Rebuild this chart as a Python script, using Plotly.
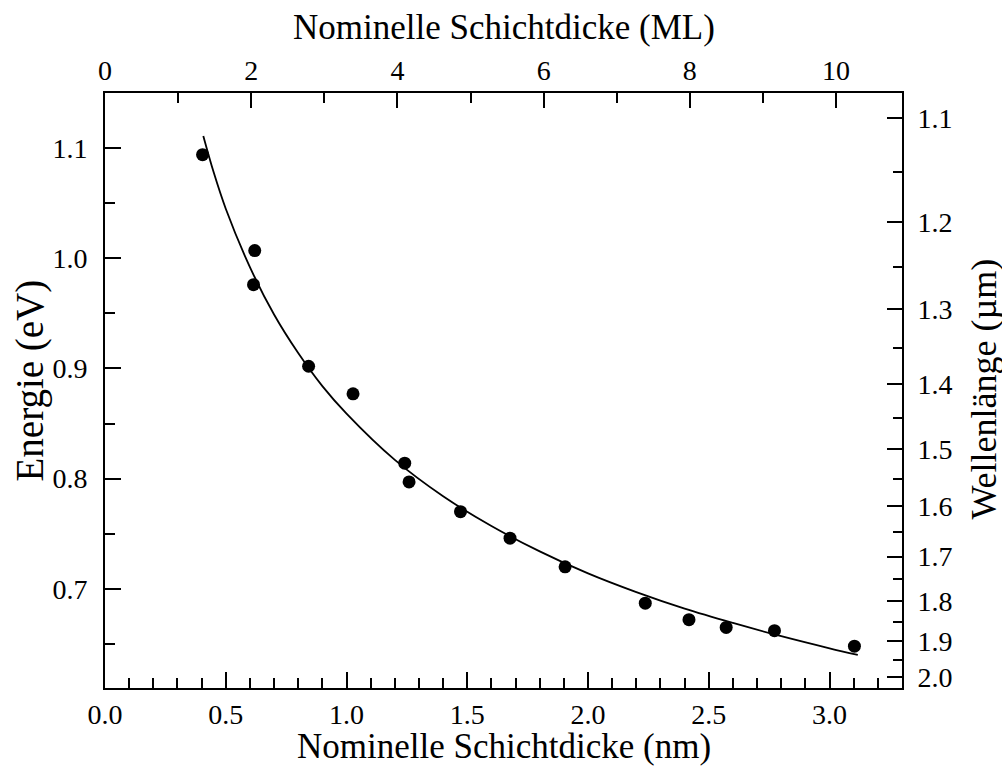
import plotly.graph_objects as go

# Measured points: nominal layer thickness (nm) and PL energy (eV)
thickness_nm = [0.404, 0.620, 0.615, 0.843, 1.027, 1.241, 1.259, 1.472, 1.677,
                1.905, 2.237, 2.418, 2.572, 2.772, 3.103]
energy_eV = [1.094, 1.007, 0.976, 0.902, 0.877, 0.814, 0.797, 0.770, 0.746,
             0.720, 0.687, 0.672, 0.665, 0.662, 0.648]

# Fitted curve
fit_nm = [0.407, 0.45, 0.5, 0.6, 0.7, 0.8, 0.9, 1.0, 1.2, 1.4, 1.6, 1.8,
          2.0, 2.2, 2.4, 2.6, 2.8, 3.0, 3.117]
fit_eV = [1.111, 1.078, 1.045, 0.992, 0.949, 0.914, 0.884, 0.859, 0.817,
          0.784, 0.757, 0.734, 0.714, 0.697, 0.682, 0.669, 0.657, 0.646, 0.640]

# Axis tick labels
ml_ticks = [0, 2, 4, 6, 8, 10]
wl_major = [1.1, 1.2, 1.3, 1.4, 1.5, 1.6, 1.7, 1.8, 1.9, 2.0]
wl_minor = [1.15, 1.25, 1.35, 1.45, 1.55, 1.65, 1.75, 1.85, 1.95]

NM_PER_ML = 0.3027
HC = 1.23984  # eV * um

X_RANGE = [0, 3.3]
Y_RANGE = [0.61, 1.15]

FONT = "Liberation Serif"

fig = go.Figure()
fig.add_trace(go.Scatter(x=fit_nm, y=fit_eV, mode="lines",
                         line=dict(color="black", width=1.8, shape="spline"),
                         hoverinfo="skip", showlegend=False))
fig.add_trace(go.Scatter(x=thickness_nm, y=energy_eV, mode="markers",
                         marker=dict(color="black", size=13),
                         showlegend=False))
# invisible trace to anchor secondary axes
fig.add_trace(go.Scatter(x=[1], y=[0.8], xaxis="x2", yaxis="y2", mode="markers",
                         marker=dict(opacity=0), hoverinfo="skip", showlegend=False))

common = dict(showgrid=False, zeroline=False, showline=True, linecolor="black",
              linewidth=2, ticks="inside", tickcolor="black", tickwidth=1.5,
              tickfont=dict(family=FONT, size=28, color="black"))

fig.update_layout(
    width=1002, height=766,
    margin=dict(l=105, r=100, t=93, b=78),
    paper_bgcolor="white", plot_bgcolor="white",
    font=dict(family=FONT, size=28, color="black"),
    showlegend=False,
    xaxis=dict(range=X_RANGE, tickmode="linear", tick0=0, dtick=0.5,
               tickformat=".1f", ticklen=16, ticklabelstandoff=0,
               minor=dict(tickmode="linear", tick0=0, dtick=0.1, ticks="inside",
                          ticklen=10, tickwidth=1.5, tickcolor="black"),
               **common),
    xaxis2=dict(range=[X_RANGE[0] / NM_PER_ML, X_RANGE[1] / NM_PER_ML],
                overlaying="x", side="top", anchor="y",
                tickmode="array", tickvals=ml_ticks,
                ticktext=[str(v) for v in ml_ticks], ticklen=15,
                ticklabelstandoff=0,
                minor=dict(tickmode="linear", tick0=0, dtick=1, ticks="inside",
                           ticklen=10, tickwidth=1.5, tickcolor="black"),
                **common),
    yaxis=dict(range=Y_RANGE, tickmode="linear", tick0=0, dtick=0.1,
               tickformat=".1f", ticklen=16, ticklabelstandoff=10,
               minor=dict(tickmode="linear", tick0=0, dtick=0.05, ticks="inside",
                          ticklen=10, tickwidth=1.5, tickcolor="black"),
               **common),
    yaxis2=dict(range=Y_RANGE, overlaying="y", side="right", anchor="x",
                tickmode="array", tickvals=[HC / w for w in wl_major],
                ticktext=[f"{w:.1f}" for w in wl_major], ticklen=15,
                ticklabelstandoff=8,
                minor=dict(tickmode="array", tickvals=[HC / w for w in wl_minor],
                           ticks="inside", ticklen=9, tickwidth=1.5,
                           tickcolor="black"),
                **common),
    annotations=[
        dict(text="Nominelle Schichtdicke (nm)", xref="paper", yref="paper",
             x=0.5, y=0, yshift=-58, xanchor="center", yanchor="middle",
             showarrow=False, font=dict(family=FONT, size=35)),
        dict(text="Nominelle Schichtdicke (ML)", xref="paper", yref="paper",
             x=0.5, y=1, yshift=66, xanchor="center", yanchor="middle",
             showarrow=False, font=dict(family=FONT, size=35)),
        dict(text="Energie (eV)", xref="paper", yref="paper",
             x=0, y=0.5, xshift=-76, yshift=10, xanchor="center", yanchor="middle",
             textangle=-90, showarrow=False, font=dict(family=FONT, size=39)),
        dict(text="Wellenlänge (µm)", xref="paper", yref="paper",
             x=1, y=0.5, xshift=81, yshift=1, xanchor="center", yanchor="middle",
             textangle=-90, showarrow=False, font=dict(family=FONT, size=36)),
    ],
)

fig.write_html("out.html")
